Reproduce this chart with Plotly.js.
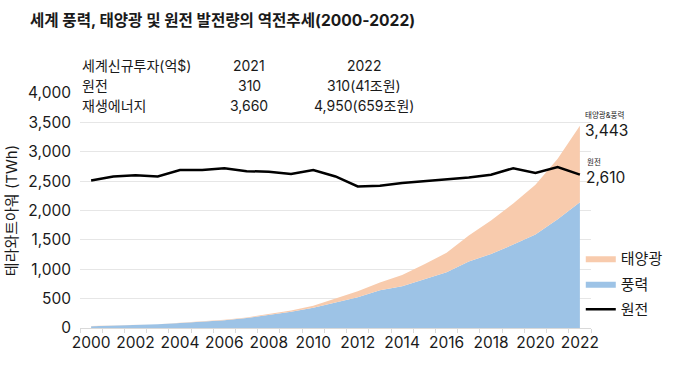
<!DOCTYPE html>
<html>
<head>
<meta charset="utf-8">
<script src="https://cdn.plot.ly/plotly-3.0.1.min.js"></script>
<style>html,body{margin:0;padding:0;background:#fff;}#chart{width:680px;height:372px;}</style>
</head>
<body>
<div id="chart"></div>
<script>
const years = [2000,2001,2002,2003,2004,2005,2006,2007,2008,2009,2010,2011,2012,2013,2014,2015,2016,2017,2018,2019,2020,2021,2022];
const wind = [31,38,52,63,85,104,133,171,221,276,346,437,524,641,712,831,950,1130,1260,1420,1590,1850,2140];
const solar = [1,1,2,2,3,4,6,8,12,21,32,64,100,134,190,256,330,445,570,700,850,1030,1303];
const nuclear = [2510,2580,2600,2580,2690,2690,2720,2670,2660,2620,2690,2580,2410,2420,2470,2500,2540,2560,2610,2720,2640,2740,2610];
const tickYears = [2000,2002,2004,2006,2008,2010,2012,2014,2016,2018,2020,2022];

const tableHeader = ['세계신규투자(억$)','2021','2022'];
const tableRows = [
  ['원전','310','310(41조원)'],
  ['재생에너지','3,660','4,950(659조원)']
];

const total = wind.map((w,i)=>w+solar[i]);
const fmt = v => v.toLocaleString('en-US');
const FONT = 'Inter, "Noto Sans CJK KR", "Noto Sans", sans-serif';
const TXT = '#1a1a1a';

const traces = [
  {x: years, y: wind, name: '풍력', type: 'scatter', mode: 'lines', stackgroup: 'one', legendgroup: 'w',
   line: {width: 0, color: '#9DC3E6'}, fillcolor: '#9DC3E6', legendrank: 2, hoverinfo: 'skip'},
  {x: years, y: solar, name: '태양광', type: 'scatter', mode: 'lines', stackgroup: 'one', legendgroup: 's',
   line: {width: 0, color: '#F8CBAD'}, fillcolor: '#F8CBAD', legendrank: 1, hoverinfo: 'skip'},
  {x: years, y: nuclear, name: '원전', type: 'scatter', mode: 'lines', legendgroup: 'n',
   line: {width: 2.5, color: '#000'}, legendrank: 3, hoverinfo: 'skip'}
];

const colX = [0, 0.331, 0.556];
const colAnchor = ['left','center','center'];
const rowY = [1.119, 1.030, 0.945];
const annotations = [];
[tableHeader].concat(tableRows).forEach((row, r) => {
  row.forEach((t, c) => {
    annotations.push({text: t, xref: 'paper', yref: 'paper', x: colX[c], y: rowY[r],
      xanchor: colAnchor[c], yanchor: 'middle', showarrow: false,
      font: {family: FONT, size: 14, color: TXT}});
  });
});
const last = years.length - 1;
annotations.push(
  {text: '태양광&풍력', xref: 'x', yref: 'y', x: years[last], y: total[last], xanchor: 'left', yanchor: 'middle',
   xshift: 3, yshift: 11, showarrow: false, font: {family: FONT, size: 7.5, color: TXT}},
  {text: fmt(total[last]), xref: 'x', yref: 'y', x: years[last], y: total[last], xanchor: 'left', yanchor: 'middle',
   xshift: 3, yshift: -5, showarrow: false, font: {family: FONT, size: 15.5, color: TXT}},
  {text: '원전', xref: 'x', yref: 'y', x: years[last], y: nuclear[last], xanchor: 'left', yanchor: 'middle',
   xshift: 5, yshift: 13, showarrow: false, font: {family: FONT, size: 7.5, color: TXT}},
  {text: fmt(nuclear[last]), xref: 'x', yref: 'y', x: years[last], y: nuclear[last], xanchor: 'left', yanchor: 'middle',
   xshift: 4, yshift: -3, showarrow: false, font: {family: FONT, size: 15.5, color: TXT}}
);

const layout = {
  width: 680, height: 372,
  margin: {l: 80, r: 87, t: 93, b: 44},
  paper_bgcolor: '#fff', plot_bgcolor: '#fff',
  font: {family: FONT, color: TXT},
  title: {text: '<b>세계 풍력, 태양광 및 원전 발전량의 역전추세(2000-2022)</b>', xref: 'container', yref: 'container',
    x: 0.044, xanchor: 'left', y: 0.946, yanchor: 'middle', font: {family: FONT, size: 15.6, color: TXT}},
  xaxis: {range: [1999.5, 2022.5], tickvals: tickYears, ticktext: tickYears.map(String), ticks: '',
    showgrid: false, zeroline: false, showline: true, linecolor: '#d9d9d9', linewidth: 1,
    tickfont: {family: FONT, size: 15.5, color: TXT},
    minor: {tick0: 1999.5, dtick: 1, ticks: 'outside', ticklen: 4, tickcolor: '#d9d9d9', showgrid: false}},
  yaxis: {range: [0, 4000], dtick: 500, tickformat: ',d', showgrid: true, gridcolor: '#e6e6e6', gridwidth: 1,
    zeroline: false, showline: false, ticks: '', ticklabelstandoff: 8,
    tickfont: {family: FONT, size: 15.5, color: TXT},
    title: {text: '테라와트아워 (TWh)', font: {family: FONT, size: 15, color: TXT}, standoff: 6}},
  legend: {x: 0.98, xanchor: 'left', y: 0.187, yanchor: 'middle', bgcolor: 'rgba(0,0,0,0)',
    font: {family: FONT, size: 15, color: TXT}, traceorder: 'grouped', itemwidth: 30, tracegroupgap: 3},
  showlegend: true,
  annotations: annotations
};

Plotly.newPlot('chart', traces, layout, {displayModeBar: false, staticPlot: true});
</script>
</body>
</html>
